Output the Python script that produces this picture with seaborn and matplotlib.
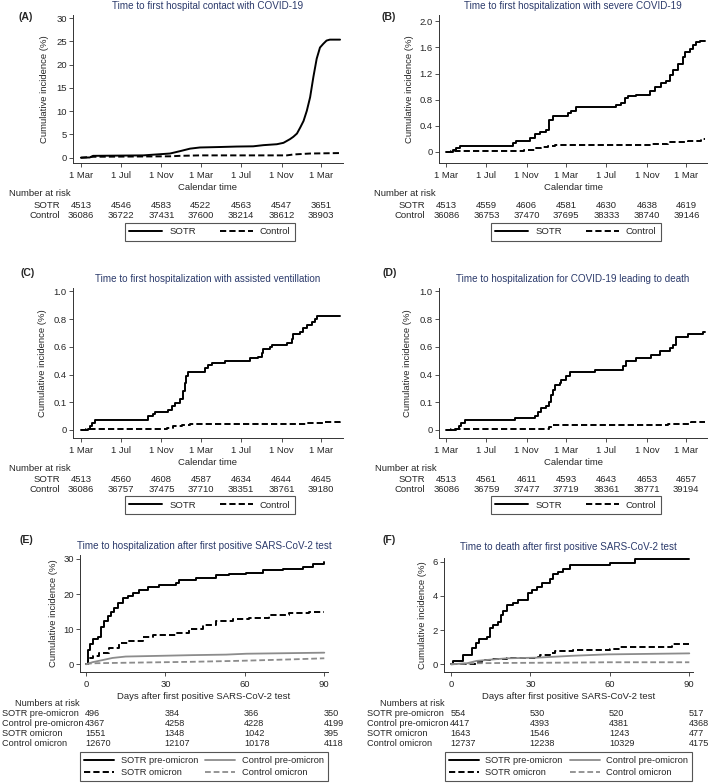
import matplotlib
matplotlib.use("Agg")
import matplotlib.pyplot as plt
import matplotlib.transforms as mtransforms
import seaborn as sns

sns.set_style("ticks")
plt.rcParams['font.family'] = ['Liberation Sans', 'DejaVu Sans']

W, H = 714, 783
FS = 6.6
TITLE_COL = "#2b3a6b"
GREY = "#8c8c8c"

# ---------------- data ----------------
# calendar panels: days since 1 Mar 2020
cal_ticks = [0, 122, 245, 365, 487, 610, 730]
cal_labels = ["1 Mar", "1 Jul", "1 Nov", "1 Mar", "1 Jul", "1 Nov", "1 Mar"]

a_sotr_x = [0, 27, 37, 190, 210, 271, 301, 332, 362, 423, 474, 524, 555, 596, 616, 626, 636,
            646, 657, 667, 677, 687, 697, 707, 717, 727, 737, 747, 757, 788]
a_sotr_y = [0, 0.05, 0.4, 0.5, 0.6, 0.9, 1.4, 1.95, 2.2, 2.3, 2.4, 2.45, 2.7, 2.9, 3.2, 3.6, 4.0,
            4.5, 5.2, 6.5, 7.9, 10.1, 13.0, 17.4, 21.3, 23.7, 24.5, 25.2, 25.4, 25.4]
a_ctrl_x = [0, 37, 271, 301, 362, 626, 647, 697, 788]
a_ctrl_y = [0, 0.2, 0.3, 0.4, 0.5, 0.5, 0.7, 0.9, 1.0]
a_risk_sotr = [4513, 4546, 4583, 4522, 4563, 4547, 3651]
a_risk_ctrl = [36086, 36722, 37431, 37600, 38214, 38612, 38903]

b_sotr_x = [0, 20, 30, 41, 203, 213, 254, 269, 284, 304, 314, 325, 370, 380, 396, 441, 517, 532,
            543, 553, 578, 619, 634, 654, 669, 680, 690, 705, 720, 726, 740, 751, 761, 771, 786]
b_sotr_y = [0, 0.03, 0.06, 0.09, 0.14, 0.17, 0.21, 0.27, 0.31, 0.34, 0.49, 0.55, 0.59, 0.63, 0.68,
            0.69, 0.72, 0.75, 0.83, 0.85, 0.87, 0.94, 0.99, 1.06, 1.09, 1.18, 1.25, 1.35, 1.45,
            1.53, 1.57, 1.64, 1.68, 1.70, 1.70]
b_ctrl_x = [0, 15, 238, 274, 289, 309, 330, 390, 624, 674, 735, 776, 786]
b_ctrl_y = [0, 0.02, 0.03, 0.06, 0.08, 0.09, 0.10, 0.10, 0.12, 0.15, 0.17, 0.19, 0.19]
b_risk_sotr = [4513, 4559, 4606, 4581, 4630, 4638, 4619]
b_risk_ctrl = [36086, 36753, 37470, 37695, 38333, 38740, 39146]

c_sotr_x = [0, 22, 29, 35, 43, 205, 220, 225, 266, 276, 286, 301, 311, 316, 321, 327, 377, 387,
            398, 438, 514, 540, 550, 555, 575, 580, 626, 641, 646, 666, 676, 687, 702, 712, 717, 788]
c_sotr_y = [0, 0.01, 0.03, 0.05, 0.07, 0.10, 0.115, 0.13, 0.147, 0.17, 0.195, 0.22, 0.28, 0.34,
            0.39, 0.416, 0.447, 0.47, 0.483, 0.50, 0.52, 0.526, 0.555, 0.584, 0.596, 0.61, 0.63,
            0.656, 0.695, 0.71, 0.735, 0.76, 0.776, 0.80, 0.822, 0.822]
c_ctrl_x = [0, 17, 261, 281, 306, 332, 687, 737, 788]
c_ctrl_y = [0, 0.01, 0.015, 0.025, 0.035, 0.04, 0.05, 0.055, 0.065]
c_risk_sotr = [4513, 4560, 4608, 4587, 4634, 4644, 4645]
c_risk_ctrl = [36086, 36757, 37475, 37710, 38351, 38761, 39180]

d_sotr_x = [0, 30, 38, 46, 56, 208, 269, 279, 287, 304, 314, 320, 325, 330, 345, 350, 365, 375,
            453, 538, 548, 578, 624, 649, 680, 690, 700, 735, 781, 786]
d_sotr_y = [0, 0.01, 0.03, 0.05, 0.07, 0.085, 0.10, 0.13, 0.16, 0.175, 0.20, 0.255, 0.286, 0.327,
            0.34, 0.363, 0.387, 0.416, 0.435, 0.46, 0.495, 0.52, 0.543, 0.567, 0.59, 0.615, 0.67,
            0.69, 0.71, 0.71]
d_ctrl_x = [0, 15, 299, 314, 325, 674, 745, 786]
d_ctrl_y = [0, 0.005, 0.01, 0.02, 0.038, 0.045, 0.055, 0.06]
d_risk_sotr = [4513, 4561, 4611, 4593, 4643, 4653, 4657]
d_risk_ctrl = [36086, 36759, 37477, 37719, 38361, 38771, 39194]

# days after first positive test panels
day_ticks = [0, 30, 60, 90]
groups = ["SOTR pre-omicron", "Control pre-omicron", "SOTR omicron", "Control omicron"]

e_sp_x = [0, 0.75, 1.5, 2.5, 4.4, 5.7, 6.9, 8.2, 9.4, 10.7, 12, 13.9, 15.7, 17.6, 20.1, 23.3,
          27.7, 34, 35.3, 41.6, 49, 54, 60.5, 66.8, 74.3, 81.9, 85.6, 90]
e_sp_y = [0, 4.1, 5.7, 7.1, 7.9, 10.7, 12.2, 13.6, 15.0, 16.0, 17.4, 18.8, 19.5, 20.2, 21.2, 22.1,
          22.6, 23.1, 24.0, 24.5, 25.5, 25.8, 26.1, 26.7, 27.2, 27.8, 28.6, 29.0]
e_so_x = [0, 0.6, 2.5, 5, 8.8, 12.6, 16.4, 21.4, 25.2, 30.2, 34, 39, 44, 49, 55.4, 61.7, 69, 76.8, 84.4, 90]
e_so_y = [0, 1.7, 2.4, 3.3, 4.6, 6.0, 6.7, 7.7, 8.3, 8.4, 9.0, 10.0, 11.2, 12.2, 12.9, 13.3, 14.1, 14.7, 15.0, 15.0]
e_cp_x = [0, 2.5, 6.3, 10, 15, 27.7, 40, 52.9, 60.5, 90]
e_cp_y = [0, 0.6, 1.2, 1.8, 2.2, 2.4, 2.6, 2.75, 3.0, 3.3]
e_co_x = [0, 1.3, 3.8, 21, 40, 59, 78, 90]
e_co_y = [0, 0.2, 0.3, 0.5, 0.7, 1.0, 1.4, 1.7]
e_risk = [[496, 384, 366, 350],
          [4367, 4258, 4228, 4199],
          [1551, 1348, 1042, 395],
          [12670, 12107, 10178, 4118]]

f_sp_x = [0, 0.6, 4.7, 7.8, 9.4, 10.7, 13.5, 14.7, 16, 17.9, 18.9, 19.8, 21, 23.5, 25.4, 29.2,
          30.5, 32.4, 34.3, 37.4, 38.7, 40.6, 42.4, 45, 60.1, 69.5, 90]
f_sp_y = [0, 0.2, 0.55, 0.94, 1.23, 1.46, 1.58, 2.1, 2.3, 2.5, 2.9, 3.1, 3.47, 3.57, 3.76, 4.15,
          4.35, 4.54, 4.74, 5.0, 5.28, 5.42, 5.6, 5.8, 5.94, 6.16, 6.16]
f_so_x = [0, 7.8, 9.7, 11.6, 14.7, 21, 32.4, 33.6, 37.4, 39.3, 46, 60.1, 63.9, 83.4, 90]
f_so_y = [0, 0, 0.12, 0.25, 0.31, 0.37, 0.41, 0.55, 0.64, 0.78, 0.84, 0.88, 1.0, 1.17, 1.17]
f_cp_x = [0, 6, 9.7, 14.7, 21, 32.4, 46, 58.8, 90]
f_cp_y = [0, 0.06, 0.2, 0.27, 0.35, 0.39, 0.5, 0.58, 0.64]
f_co_x = [0, 8.4, 21, 46, 59, 90]
f_co_y = [0, 0.06, 0.08, 0.1, 0.12, 0.12]
f_risk = [[554, 530, 520, 517],
          [4417, 4393, 4381, 4368],
          [1643, 1546, 1243, 477],
          [12737, 12238, 10329, 4175]]

# ---------------- helpers ----------------
fig = plt.figure(figsize=(W / 100, H / 100), dpi=100)

DASH = (0, (3.2, 1.6))


def new_ax(l, t, r, b):
    return fig.add_axes([l / W, 1 - b / H, (r - l) / W, (b - t) / H])


def style(ax, l, t, r, b, xlim, ylim, xt, xtl, yt, ytl, title, xlabel, ylab_px, tpad=4.5):
    ax.set_xlim(*xlim)
    ax.set_ylim(*ylim)
    ax.set_xticks(xt)
    ax.set_xticklabels(xtl)
    ax.set_yticks(yt)
    ax.set_yticklabels(ytl)
    sns.despine(ax=ax)
    for s in ["left", "bottom"]:
        ax.spines[s].set_linewidth(0.7)
        ax.spines[s].set_color("#333333")
    ax.tick_params(axis="both", labelsize=FS + 0.2, length=3, width=0.6, color="#333333")
    ax.tick_params(axis="x", pad=2.5)
    ax.tick_params(axis="y", pad=1.5)
    ax.set_title(title, fontsize=FS + 0.5, color=TITLE_COL, pad=tpad)
    ax.set_xlabel(xlabel, fontsize=FS + 0.2)
    ax.set_ylabel("Cumulative incidence (%)", fontsize=FS + 0.2)
    ax.xaxis.set_label_coords(0.5, -20 / (b - t))
    ax.yaxis.set_label_coords((ylab_px - l) / (r - l), 0.5)


def legend(ax, cx, cy, compact=False):
    handles, labels = ax.get_legend_handles_labels()
    leg = ax.legend(handles, labels, loc="center", bbox_to_anchor=(cx / W, 1 - cy / H),
                    bbox_transform=fig.transFigure, ncol=2,
                    fontsize=FS + 0.1 if compact else FS + 0.2, frameon=True,
                    fancybox=False, edgecolor="#555555", framealpha=1,
                    handlelength=3.2 if compact else 3.5, handletextpad=0.7,
                    columnspacing=0.8 if compact else 2.6, borderpad=0.45,
                    labelspacing=0.3, borderaxespad=0)
    leg.get_frame().set_linewidth(0.8)


def risk_top(ax, title_x, lab_x, ys, sotr, ctrl):
    tr = mtransforms.blended_transform_factory(ax.transData, fig.transFigure)
    fig.text(title_x / W, 1 - ys[0] / H, "Number at risk", fontsize=FS + 0.2, va="center", ha="left")
    for name, vals, y in [("SOTR", sotr, ys[1]), ("Control", ctrl, ys[2])]:
        fig.text(lab_x / W, 1 - y / H, name, fontsize=FS + 0.2, va="center", ha="right")
        for xv, v in zip(cal_ticks, vals):
            ax.text(xv, 1 - y / H, str(v), transform=tr, fontsize=FS + 0.2, va="center", ha="center")


def risk_bottom(ax, title_x, lab_x, ys, table):
    tr = mtransforms.blended_transform_factory(ax.transData, fig.transFigure)
    fig.text(title_x / W, 1 - ys[0] / H, "Numbers at risk", fontsize=FS, va="center", ha="left")
    for name, vals, y in zip(groups, table, ys[1:]):
        fig.text(lab_x / W, 1 - y / H, name, fontsize=FS, va="center", ha="left")
        for xv, v in zip(day_ticks, vals):
            ax.text(xv - 0.3, 1 - y / H, str(v), transform=tr, fontsize=FS, va="center", ha="left")


def curve(ax, x, y, color="black", ls="-", lw=1.4, label=None, step=True):
    kw = dict(drawstyle="steps-post") if step else {}
    sns.lineplot(x=x, y=y, ax=ax, color=color, linestyle=ls, linewidth=lw, label=label,
                 estimator=None, sort=False, **kw)


def panel_label(x, y, s):
    fig.text(x / W, 1 - y / H, s, fontsize=FS + 1.0, fontweight="bold", ha="center", va="center")


# ---------------- panel A ----------------
ax = new_ax(73, 15, 343, 163)
curve(ax, a_sotr_x, a_sotr_y, label="SOTR", step=False)
curve(ax, a_ctrl_x, a_ctrl_y, ls=DASH, label="Control", step=False)
style(ax, 73, 15, 343, 163, (-24, 797), (-1.14, 30.7), cal_ticks, cal_labels,
      [0, 5, 10, 15, 20, 25, 30], ["0", "5", "10", "15", "20", "25", "30"],
      "Time to first hospital contact with COVID-19", "Calendar time", 49)
risk_top(ax, 9, 60, [194, 205, 216], a_risk_sotr, a_risk_ctrl)
legend(ax, 210, 232)
panel_label(26, 17, "(A)")

# ---------------- panel B ----------------
ax = new_ax(439, 15, 707, 163)
curve(ax, b_sotr_x, b_sotr_y, label="SOTR")
curve(ax, b_ctrl_x, b_ctrl_y, ls=DASH, label="Control")
style(ax, 439, 15, 707, 163, (-22, 793), (-0.17, 2.096), cal_ticks, cal_labels,
      [0, 0.4, 0.8, 1.2, 1.6, 2.0], ["0", "0.4", "0.8", "1.2", "1.6", "2.0"],
      "Time to first hospitalization with severe COVID-19", "Calendar time", 414)
risk_top(ax, 374, 425, [194, 205, 216], b_risk_sotr, b_risk_ctrl)
legend(ax, 576, 232)
panel_label(389, 17, "(B)")

# ---------------- panel C ----------------
ax = new_ax(73, 288, 343, 438)
curve(ax, c_sotr_x, c_sotr_y, label="SOTR")
curve(ax, c_ctrl_x, c_ctrl_y, ls=DASH, label="Control")
style(ax, 73, 288, 343, 438, (-24, 797), (-0.058, 1.024), cal_ticks, cal_labels,
      [0, 0.2, 0.4, 0.6, 0.8, 1.0], ["0", "0.1", "0.4", "0.6", "0.8", "1.0"],
      "Time to first hospitalization with assisted ventillation", "Calendar time", 47)
risk_top(ax, 9, 60, [468, 479, 489], c_risk_sotr, c_risk_ctrl)
legend(ax, 210, 505)
panel_label(28, 273, "(C)")

# ---------------- panel D ----------------
ax = new_ax(439, 288, 707, 438)
curve(ax, d_sotr_x, d_sotr_y, label="SOTR")
curve(ax, d_ctrl_x, d_ctrl_y, ls=DASH, label="Control")
style(ax, 439, 288, 707, 438, (-22, 793), (-0.058, 1.024), cal_ticks, cal_labels,
      [0, 0.2, 0.4, 0.6, 0.8, 1.0], ["0", "0.1", "0.4", "0.6", "0.8", "1.0"],
      "Time to hospitalization for COVID-19 leading to death", "Calendar time", 412)
risk_top(ax, 375, 425, [468, 479, 489], d_risk_sotr, d_risk_ctrl)
legend(ax, 576, 505)
panel_label(390, 273, "(D)")

# ---------------- panel E ----------------
ax = new_ax(80, 555, 328, 672)
curve(ax, e_sp_x, e_sp_y, label=groups[0])
curve(ax, e_so_x, e_so_y, ls=DASH, label=groups[2])
curve(ax, e_cp_x, e_cp_y, color=GREY, lw=1.3, label=groups[1], step=False)
curve(ax, e_co_x, e_co_y, color=GREY, ls=DASH, lw=1.3, label=groups[3], step=False)
style(ax, 80, 555, 328, 672, (-2.27, 91.4), (-2.2, 31.1), day_ticks, ["0", "30", "60", "90"],
      [0, 10, 20, 30], ["0", "10", "20", "30"],
      "Time to hospitalization after first positive SARS-CoV-2 test",
      "Days after first positive SARS-CoV-2 test", 58, tpad=4)
risk_bottom(ax, 15, 2, [703, 713, 723.5, 733.5, 744], e_risk)
legend(ax, 204, 766.5, compact=True)
panel_label(26, 540, "(E)")

# ---------------- panel F ----------------
ax = new_ax(444, 558, 693, 672)
curve(ax, f_sp_x, f_sp_y, label=groups[0])
curve(ax, f_so_x, f_so_y, ls=DASH, label=groups[2])
curve(ax, f_cp_x, f_cp_y, color=GREY, lw=1.3, label=groups[1], step=False)
curve(ax, f_co_x, f_co_y, color=GREY, ls=DASH, lw=1.3, label=groups[3], step=False)
style(ax, 444, 558, 693, 672, (-2.64, 91.4), (-0.45, 6.22), day_ticks, ["0", "30", "60", "90"],
      [0, 2, 4, 6], ["0", "2", "4", "6"],
      "Time to death after first positive SARS-CoV-2 test",
      "Days after first positive SARS-CoV-2 test", 427, tpad=6)
risk_bottom(ax, 380, 367, [703, 713, 723.5, 733.5, 744], f_risk)
legend(ax, 568.5, 766.5, compact=True)
panel_label(389, 540, "(F)")

fig.savefig("out.png", dpi=100, facecolor="white")
